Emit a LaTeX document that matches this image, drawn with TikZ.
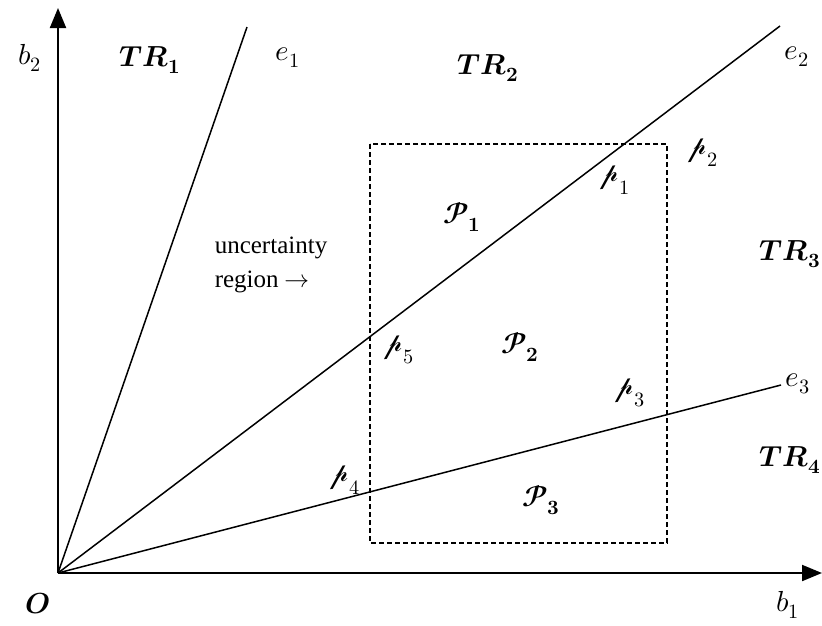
\documentclass[tikz,border=0pt]{standalone}
\usepackage{fontspec}
\usepackage{unicode-math}
\setmainfont{Liberation Serif}
\setmathfont{Latin Modern Math}
\IfFontExistsTF{Noto Sans Math}{\newfontfamily\scrfont{Noto Sans Math}}{%
  \newfontfamily\scrfont{DejaVuMathTeXGyre.ttf}}
\newcommand\scp{\mbox{\scrfont 𝓅}}
\usetikzlibrary{arrows.meta}
\begin{document}
\begin{tikzpicture}[x=1pt,y=-1pt,
  font=\fontsize{25}{34}\selectfont,
  lbl/.style={inner sep=0pt, anchor=center, font=\fontsize{29}{34}\selectfont},
  axis/.style={line width=2pt, -{Triangle[length=20pt,width=16pt]}},
  ray/.style={line width=1.5pt},
  region/.style={line width=2pt, dash pattern=on 5pt off 3pt}]
\useasboundingbox (0,0) rectangle (822,625);
\coordinate (O) at (58,573);
\coordinate (ytip) at (58,8);
\coordinate (xtip) at (822,573);
\coordinate (e1end) at (247,27);
\coordinate (e2end) at (780,26);
\coordinate (e3end) at (781,385);
\coordinate (rtl) at (370,144);
\coordinate (rbr) at (667,543);
% rays
\draw[ray] (O) -- (e1end);
\draw[ray] (O) -- (e2end);
\draw[ray] (O) -- (e3end);
% uncertainty region
\draw[region] (rtl) rectangle (rbr);
% axes
\draw[axis] (O) -- (ytip);
\draw[axis] (O) -- (xtip);
% labels
\node[lbl] (lb2) at (30,58) {$b_2$};
\node[lbl] (lb1) at (788,605) {$b_1$};
\node[lbl] (lO) at (38,604) {$\symbfit{O}$};
\node[lbl] (le1) at (288,58) {$e_1$};
\node[lbl] (le2) at (797,57) {$e_2$};
\node[lbl] (le3) at (798,384) {$e_3$};
\node[lbl] (ltr1) at (150,60) {$\symbfit{TR}_{\symbf{1}}$};
\node[lbl] (ltr2) at (488,68) {$\symbfit{TR}_{\symbf{2}}$};
\node[lbl] (ltr3) at (790,254) {$\symbfit{TR}_{\symbf{3}}$};
\node[lbl] (ltr4) at (790,460) {$\symbfit{TR}_{\symbf{4}}$};
\node[lbl] (lp1) at (617,180) {$\scp_1$};
\node[lbl] (lp2) at (705,153) {$\scp_2$};
\node[lbl] (lp3) at (632,393) {$\scp_3$};
\node[lbl] (lp4) at (347,480) {$\scp_4$};
\node[lbl] (lp5) at (401,350) {$\scp_5$};
\node[lbl] (lP1) at (462,217) {$\symbfscr{P}_{\symbf{1}}$};
\node[lbl] (lP2) at (520,347) {$\symbfscr{P}_{\symbf{2}}$};
\node[lbl] (lP3) at (541,500) {$\symbfscr{P}_{\symbf{3}}$};
\node[inner sep=0pt, anchor=center, align=left] (lunc) at (271,265) {uncertainty\\region $\rightarrow$};
\end{tikzpicture}
\end{document}
